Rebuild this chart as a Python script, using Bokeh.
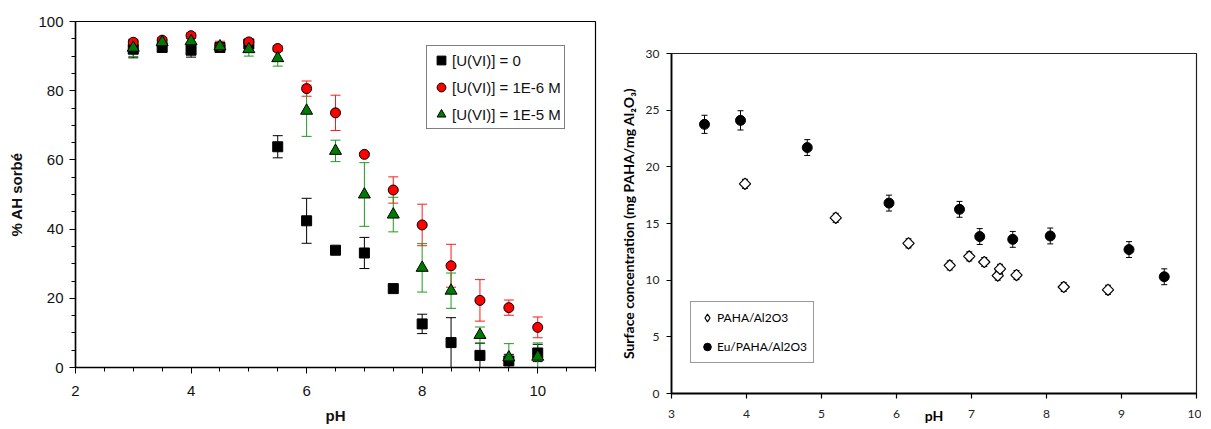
import numpy as np
from bokeh.plotting import figure
from bokeh.layouts import row, column
from bokeh.models import (ColumnDataSource, Whisker, TeeHead, FixedTicker, Legend,
                          LegendItem, Range1d)
from bokeh.embed import file_html
from bokeh.resources import INLINE

# ---------------- data: left panel (% AH sorbed vs pH) ----------------
ph_a = [3, 3.5, 4, 4.5, 5, 5.5, 6, 6.5, 7, 7.5, 8, 8.5, 9, 9.5, 10]
u0 = [92.0, 92.5, 91.7, 92.5, 93.5, 63.8, 42.4, 33.9, 33.1, 22.8, 12.6, 7.2, 3.5, 1.9, 4.2]
u0_err = [2.5, 0.8, 2.0, 0.8, 0.8, 3.2, 6.5, 0.5, 4.5, 0.5, 2.8, 7.2, 3.5, 1.9, 2.5]
u6 = [94.0, 94.6, 95.9, 92.8, 94.1, 92.2, 80.6, 73.6, 61.6, 51.3, 41.2, 29.4, 19.4, 17.3, 11.6]
u6_err = [0.8, 0.8, 0.8, 1.5, 0.8, 0.8, 2.2, 5.1, 0.5, 3.8, 6.0, 6.2, 6.0, 2.2, 3.0]
u5 = [92.4, 94.0, 94.3, 92.8, 92.0, 89.4, 74.2, 62.6, 50.0, 44.2, 28.8, 22.2, 9.4, 2.9, 3.1]
u5_err = [2.5, 0.8, 0.8, 1.0, 2.0, 2.3, 7.4, 3.1, 9.2, 5.0, 7.0, 5.1, 2.3, 4.0, 4.0]
labels_a = ["[U(VI)] = 0", "[U(VI)] = 1E-6 M", "[U(VI)] = 1E-5 M"]

# ---------------- data: right panel (surface concentration vs pH) ----------------
ph_paha = [3.98, 5.19, 6.16, 6.71, 6.97, 7.17, 7.35, 7.38, 7.60, 8.23, 8.82]
paha = [18.5, 15.5, 13.25, 11.3, 12.1, 11.6, 10.4, 11.0, 10.45, 9.4, 9.15]
paha_err = [0.4, 0.4, 0.4, 0.4, 0.4, 0.4, 0.4, 0.4, 0.4, 0.4, 0.4]
ph_eu = [3.44, 3.92, 4.81, 5.90, 6.84, 7.11, 7.55, 8.05, 9.10, 9.57]
eu = [23.75, 24.1, 21.7, 16.8, 16.25, 13.85, 13.6, 13.9, 12.7, 10.3]
eu_err = [0.8, 0.85, 0.7, 0.7, 0.7, 0.7, 0.7, 0.7, 0.7, 0.7]
labels_b = ["PAHA/Al2O3", "Eu/PAHA/Al2O3"]

ARIAL = "Liberation Sans"
CAL = "Lato"


def src(x, y, e):
    return ColumnDataSource(dict(x=x, y=y,
                                 lo=[a - b for a, b in zip(y, e)],
                                 hi=[a + b for a, b in zip(y, e)]))


def whisk(p, s, color, cap, lw=1):
    p.add_layout(Whisker(source=s, base="x", lower="lo", upper="hi",
                         line_color=color, line_width=lw,
                         upper_head=TeeHead(size=cap, line_color=color, line_width=lw),
                         lower_head=TeeHead(size=cap, line_color=color, line_width=lw)))


# ======================= LEFT =======================
p1 = figure(frame_width=520, frame_height=346, x_range=Range1d(2, 11), y_range=Range1d(0, 100),
            output_backend="svg", toolbar_location=None,
            min_border_left=75, min_border_right=15, min_border_top=21, min_border_bottom=60)
p1.grid.visible = False
p1.outline_line_color = "black"
p1.outline_line_width = 1.2
p1.background_fill_color = "white"

s0 = src(ph_a, u0, u0_err)
s6 = src(ph_a, u6, u6_err)
s5 = src(ph_a, u5, u5_err)
whisk(p1, s0, "black", 10)
r0 = p1.scatter("x", "y", source=s0, marker="square", size=10, fill_color="black", line_color="black")
whisk(p1, s6, "#ff1a1a", 10)
r6 = p1.scatter("x", "y", source=s6, marker="circle", size=10, fill_color="#ff0000", line_color="black")
whisk(p1, s5, "#1f9a1f", 10)
r5 = p1.scatter("x", "y", source=s5, marker="triangle", size=12, fill_color="#007a00", line_color="black")

p1.xaxis.ticker = FixedTicker(ticks=[2, 4, 6, 8, 10], minor_ticks=list(np.arange(2, 11.01, 0.5)))
p1.yaxis.ticker = FixedTicker(ticks=[0, 20, 40, 60, 80, 100], minor_ticks=list(range(0, 101, 5)))
for ax in (p1.xaxis, p1.yaxis):
    ax.axis_line_color = "black"
    ax.axis_line_width = 1.5
    ax.major_tick_line_color = "black"
    ax.minor_tick_line_color = "black"
    ax.major_tick_in = 0
    ax.major_tick_out = 6
    ax.minor_tick_in = 0
    ax.minor_tick_out = 4
    ax.major_label_text_font = ARIAL
    ax.major_label_text_font_size = "15px"
    ax.major_label_text_color = "#111111"
    ax.axis_label_text_font = ARIAL
    ax.axis_label_text_font_size = "15px"
    ax.axis_label_text_font_style = "bold"
    ax.axis_label_text_color = "#111111"
p1.xaxis.axis_label = "pH"
p1.yaxis.axis_label = "% AH sorbé"
p1.xaxis.major_label_standoff = 12
p1.xaxis.axis_label_standoff = 8
p1.yaxis.major_label_standoff = 6
p1.yaxis.axis_label_standoff = 10

leg1 = Legend(items=[LegendItem(label=labels_a[0], renderers=[r0]),
                     LegendItem(label=labels_a[1], renderers=[r6]),
                     LegendItem(label=labels_a[2], renderers=[r5])],
              location=(351, 238), padding=3, spacing=5, margin=0,
              glyph_width=22, glyph_height=22, label_height=22, label_standoff=-4,
              label_text_font=ARIAL, label_text_font_size="15px", label_text_color="#111111",
              border_line_color="black", border_line_width=1.2,
              background_fill_color="white", background_fill_alpha=1)
p1.add_layout(leg1)

# ======================= RIGHT =======================
p2 = figure(frame_width=525, frame_height=340, x_range=Range1d(3, 10), y_range=Range1d(0, 30),
            output_backend="svg", toolbar_location=None,
            min_border_left=61, min_border_right=5, min_border_top=53, min_border_bottom=34)
p2.grid.visible = False
p2.outline_line_color = "#222222"
p2.outline_line_width = 1.2
p2.background_fill_color = "white"

sp = src(ph_paha, paha, paha_err)
se = src(ph_eu, eu, eu_err)
whisk(p2, sp, "black", 6)
# tiny legend proxy (diamond shape), hidden beneath the first open marker
rp_leg = p2.scatter(x=ph_paha[:1], y=paha[:1], marker="diamond", size=1, fill_color="white",
                    line_color="black", line_width=1.2)
rp = p2.scatter("x", "y", source=sp, marker="square", angle=np.pi / 4, size=8,
                fill_color="white", line_color="black", line_width=1.2)
whisk(p2, se, "black", 6)
re_ = p2.scatter("x", "y", source=se, marker="circle", size=10, fill_color="black", line_color="black")

p2.xaxis.ticker = FixedTicker(ticks=list(range(3, 11)))
p2.yaxis.ticker = FixedTicker(ticks=list(range(0, 31, 5)))
for ax in (p2.xaxis, p2.yaxis):
    ax.axis_line_color = "black"
    ax.axis_line_width = 1.8
    ax.major_tick_line_color = "black"
    ax.major_tick_line_width = 1.2
    ax.minor_tick_line_color = None
    ax.major_tick_in = 0
    ax.major_tick_out = 5
    ax.major_label_text_font = CAL
    ax.major_label_text_font_size = "12px"
    ax.major_label_text_color = "#222222"
    ax.axis_label_text_font = CAL
    ax.axis_label_text_font_size = "14px"
    ax.axis_label_text_font_style = "bold"
    ax.axis_label_text_color = "black"
p2.xaxis.axis_label = "pH"
p2.yaxis.axis_label = "Surface concentration (mg PAHA/mg Al₂O₃)"
p2.xaxis.major_label_standoff = 11
p2.xaxis.axis_label_standoff = -14
p2.yaxis.major_label_standoff = 7
p2.yaxis.axis_label_standoff = 6

leg2 = Legend(items=[LegendItem(label=labels_b[0], renderers=[rp_leg]),
                     LegendItem(label=labels_b[1], renderers=[re_])],
              location=(19, 30), padding=6, spacing=10, margin=0,
              glyph_width=20, glyph_height=19, label_height=19, label_standoff=-6,
              label_text_font=CAL, label_text_font_size="12px", label_text_color="black",
              border_line_color="#333333", border_line_width=1,
              background_fill_color="white", background_fill_alpha=1)
p2.add_layout(leg2)

layout = row(column(p1), column(p2), spacing=0)
open("out.html", "w").write(file_html(layout, INLINE))
